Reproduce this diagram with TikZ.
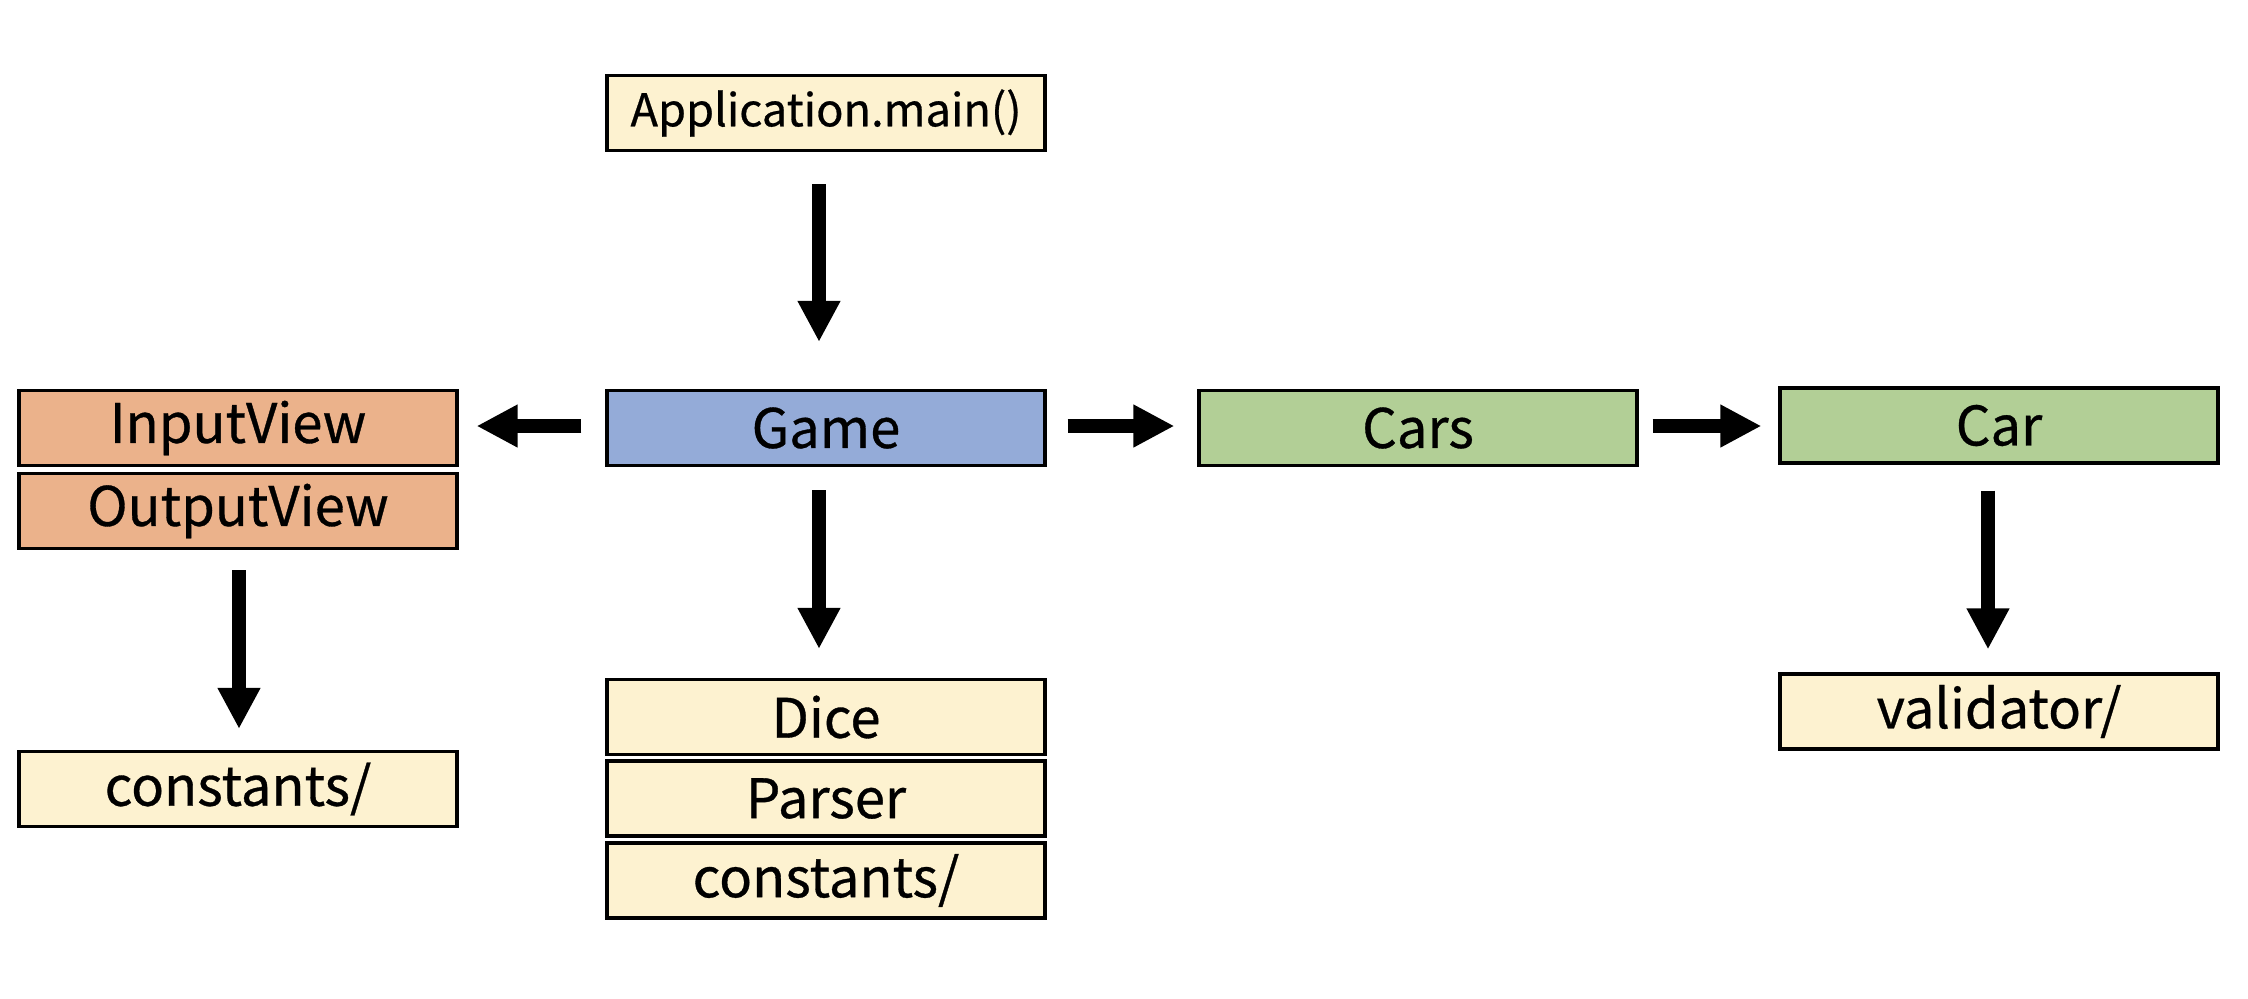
\documentclass[tikz,border=0pt]{standalone}
\usepackage{fontspec}
\setmainfont{Noto Sans CJK KR}[FakeBold=0.6]
\usetikzlibrary{arrows.meta}
\definecolor{paleY}{RGB}{253,242,208}
\definecolor{orangeV}{RGB}{235,178,139}
\definecolor{blueG}{RGB}{148,171,216}
\definecolor{greenC}{RGB}{178,207,150}
\tikzset{
  box/.style={draw=black, line width=1.6pt, rectangle, minimum width=219pt, minimum height=37.5pt, inner sep=0pt, font=\fontsize{27.2}{29}\selectfont},
  ybox/.style={box, fill=paleY},
  obox/.style={box, fill=orangeV},
  bbox/.style={box, fill=blueG},
  gbox/.style={box, fill=greenC},
  fat/.style={line width=7pt, -{Triangle[width=20pt,length=20.5pt]}}
}
\begin{document}
\begin{tikzpicture}[x=0.5pt,y=-0.5pt]
\useasboundingbox (0,0) rectangle (2248,998);
\node[ybox, font=\fontsize{22.6}{24}\selectfont] (app) at (826,113) {Application.main()};
\node[bbox] (game) at (826,428) {Game};
\node[obox] (input) at (238,428) {InputView};
\node[obox] (output) at (238,511) {OutputView};
\node[ybox] (constA) at (238,789) {constants/};
\node[gbox] (cars) at (1418,428) {Cars};
\node[gbox] (car) at (1999,425.5) {Car};
\node[ybox] (valid) at (1999,711.5) {validator/};
\node[ybox] (dice) at (826,717) {Dice};
\node[ybox] (parser) at (826,798.5) {Parser};
\node[ybox] (constB) at (826,880.5) {constants/};

\draw[fat, shorten <=16pt, shorten >=23.5pt] ([xshift=-3.5pt]app.south) -- ([xshift=-3.5pt]game.north);
\draw[fat, shorten <=11.5pt, shorten >=14.5pt] ([xshift=-3.5pt]game.south) -- ([xshift=-3.5pt]dice.north);
\draw[fat, shorten <=10pt, shorten >=10.5pt] ([xshift=0.5pt]output.south) -- ([xshift=0.5pt]constA.north);
\draw[fat, shorten <=13pt, shorten >=11.5pt] ([xshift=-5.5pt]car.south) -- ([xshift=-5.5pt]valid.north);
\draw[fat, shorten <=12pt, shorten >=9pt] ([yshift=1pt]game.west) -- ([yshift=1pt]game.west -| input.east);
\draw[fat, shorten <=10.5pt, shorten >=11.5pt] ([yshift=1pt]game.east) -- ([yshift=1pt]game.east -| cars.west);
\draw[fat, shorten <=7pt, shorten >=8.5pt] ([yshift=1pt]cars.east) -- ([yshift=1pt]cars.east -| car.west);
\end{tikzpicture}
\end{document}
